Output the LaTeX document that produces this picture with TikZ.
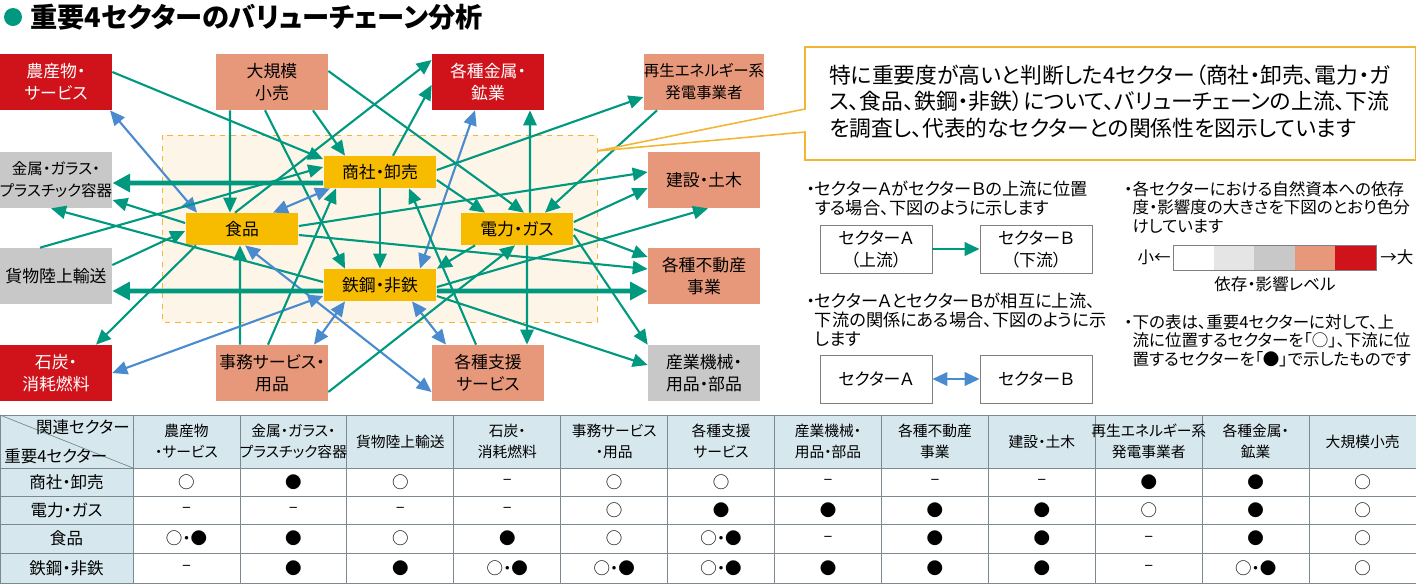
\documentclass[tikz,border=0pt]{standalone}
\usepackage{fontspec}
\setmainfont{Noto Sans CJK JP}[RawFeature=+palt]
\usepackage{xcolor}
\usetikzlibrary{arrows.meta}
\definecolor{secred}{HTML}{D0121B}
\definecolor{secsalmon}{HTML}{E8987A}
\definecolor{secgray}{HTML}{C8C8C8}
\definecolor{keyyel}{HTML}{F7BC00}
\definecolor{arrgreen}{HTML}{00997F}
\definecolor{arrblue}{HTML}{4A8BD0}
\definecolor{zonefill}{HTML}{FDF6E8}
\definecolor{zoneline}{HTML}{F2B632}
\definecolor{tabhead}{HTML}{D6E8EE}
\definecolor{tabline}{HTML}{7A8A90}
\tikzset{sec/.style={minimum width=2.24cm,minimum height=1.12cm,inner sep=0pt,align=center,font=\fontsize{9.6}{12.5}\selectfont},
  red/.style={sec,fill=secred,text=white},
  sal/.style={sec,fill=secsalmon},
  gry/.style={sec,fill=secgray},
  key/.style={fill=keyyel,minimum width=2.26cm,minimum height=0.64cm,inner sep=0pt,font=\fontsize{9.6}{12}\selectfont},
  up/.style={draw=arrgreen,line width=1.2pt,-{Triangle[length=8.5pt,width=7.5pt]}},
  bigup/.style={draw=arrgreen,line width=2.6pt,-{Triangle[length=10pt,width=10pt]}},
  both/.style={draw=arrblue,line width=1.2pt,{Triangle[length=8.5pt,width=7.5pt]}-{Triangle[length=8.5pt,width=7.5pt]}},
  demo/.style={draw=gray,fill=white,minimum width=2.24cm,minimum height=0.96cm,inner sep=0pt,align=center,font=\fontsize{9.6}{12.5}\selectfont},
  note/.style={anchor=north west,align=left,inner sep=0pt,font=\fontsize{9.8}{10.6}\selectfont},
  cell/.style={font=\fontsize{9.4}{11}\selectfont,align=center,inner sep=0pt}}

\begin{document}
\begin{tikzpicture}[x=0.02cm,y=-0.02cm]
    \useasboundingbox (0,0) rectangle (1416,583);
    % title
    \fill[arrgreen] (13,17) circle (9);
    \node[anchor=west,inner sep=0pt,font=\fontsize{15.5}{17}\selectfont\bfseries] (title) at (30,17) {重要4セクターのバリューチェーン分析};

    % highlighted zone
    \draw[zoneline,fill=zonefill,dashed] (162,135) rectangle (597,322);

    % outer sectors
    \node[red] (agri) at (56,82) {農産物・\\サービス};
    \node[sal] (retail) at (272,82) {大規模\\小売};
    \node[red] (metal) at (488,82) {各種金属・\\鉱業};
    \node[sal,font=\fontsize{8.8}{12.5}\selectfont] (renew) at (704,82) {再生エネルギー系\\発電事業者};
    \node[gry,font=\fontsize{8.8}{12.5}\selectfont] (glass) at (56,180) {金属・ガラス・\\プラスチック容器};
    \node[sal] (const) at (704,180) {建設・土木};
    \node[gry] (freight) at (56,276) {貨物陸上輸送};
    \node[sal] (estate) at (704,276) {各種不動産\\事業};
    \node[red] (coal) at (56,373) {石炭・\\消耗燃料};
    \node[sal] (office) at (272,373) {事務サービス・\\用品};
    \node[sal] (support) at (488,373) {各種支援\\サービス};
    \node[gry] (machine) at (704,373) {産業機械・\\用品・部品};

    % key sectors
    \node[key] (trade) at (380,172) {商社・卸売};
    \node[key] (food) at (242,229) {食品};
    \node[key] (power) at (517,229) {電力・ガス};
    \node[key] (steel) at (380,285) {鉄鋼・非鉄};

    % flows
    \draw[up] ([yshift=0.2cm]agri.east) -- ([yshift=0.26cm]trade.west);
    \draw[both] ([xshift=1.08cm]agri.south) -- ([xshift=-0.9cm]food.north);
    \draw[up] ([xshift=-0.84cm]retail.south) -- ([xshift=-0.24cm]food.north);
    \draw[up] ([xshift=-0.14cm]retail.south) -- ([xshift=-0.7cm]steel.north);
    \draw[up] ([xshift=0.82cm]retail.south) -- ([xshift=-0.7cm]trade.north);
    \draw[up] ([yshift=0.22cm]retail.east) -- ([xshift=0.14cm]power.north);
    \draw[up] ([xshift=-0.14cm]food.north) -- ([yshift=0.44cm]metal.west);
    \draw[up] ([xshift=0.26cm]trade.north) -- ([yshift=-0.06cm]metal.west);
    \draw[both] ([xshift=0.8cm]steel.north) -- ([xshift=-0.26cm]metal.south);
    \draw[up] ([xshift=0.26cm]power.north) -- ([xshift=0.84cm]metal.south);
    \draw[up] ([yshift=0.04cm]trade.east) -- ([yshift=-0.3cm]renew.west);
    \draw[up] ([xshift=-0.94cm]renew.south) -- ([xshift=0.56cm]power.north);
    \draw[bigup] ([yshift=-0.22cm]trade.west) -- ([yshift=-0.06cm]glass.east);
    \draw[up] ([xshift=-0.32cm]freight.north) -- ([yshift=0.1cm]trade.west);
    \draw[both] ([xshift=-1.0cm]trade.south) -- ([xshift=0.62cm]food.north);
    \draw[up] (trade.south) -- (steel.north);
    \draw[up] ([yshift=-0.16cm]trade.east) -- ([xshift=-0.64cm]power.north);
    \draw[up] ([xshift=-0.24cm]support.north) -- ([xshift=0.58cm]trade.south);
    \draw[up] ([yshift=0.06cm]food.east) -- ([yshift=0.16cm]const.west);
    \draw[up] ([yshift=0.14cm]power.east) -- ([yshift=-0.16cm]const.west);
    \draw[up] ([yshift=0.12cm]food.west) -- ([yshift=-0.4cm]glass.east);
    \draw[up] ([yshift=0.06cm]steel.west) -- ([xshift=-0.1cm]glass.south);
    \draw[up] ([yshift=0.22cm]freight.east) -- ([yshift=-0.04cm]food.west);
    \draw[up] ([xshift=-0.92cm]food.south) -- ([xshift=0.8cm]coal.north);
    \draw[up] ([xshift=-0.64cm]office.north) -- ([xshift=-0.04cm]food.south);
    \draw[both] ([xshift=0.06cm]food.south) -- ([yshift=-0.38cm]support.west);
    \draw[up] ([yshift=-0.12cm]food.east) -- ([yshift=0.14cm]estate.west);
    \draw[bigup] ([yshift=-0.12cm]steel.west) -- ([yshift=-0.3cm]freight.east);
    \draw[bigup] ([yshift=-0.12cm]steel.east) -- ([yshift=-0.3cm]estate.west);
    \draw[both] ([yshift=-0.22cm]steel.west) -- (coal.east);
    \draw[both] ([xshift=-0.7cm]steel.south) -- ([xshift=0.84cm]office.north);
    \draw[both] ([xshift=0.64cm]steel.south) -- ([xshift=-0.84cm]support.north);
    \draw[up] ([xshift=-0.08cm]office.north) -- ([xshift=-0.88cm]trade.south);
    \draw[up] ([yshift=-0.04cm]steel.east) -- ([xshift=0.08cm]const.south);
    \draw[up] ([xshift=-0.84cm]power.south) -- (steel.north east);
    \draw[up] ([yshift=-0.38cm]office.east) -- ([xshift=-0.04cm]power.south);
    \draw[up] ([xshift=0.2cm]power.south) -- ([xshift=0.78cm]support.north);
    \draw[up] (power.east) -- ([yshift=0.38cm]estate.west);
    \draw[up] ([yshift=-0.12cm]power.east) -- (machine.north west);
    \draw[up] ([yshift=-0.22cm]steel.east) -- ([yshift=0.16cm]machine.west);

    % callout
    \coordinate (tip) at (597,151);
    \draw[zoneline,line width=0.9pt,fill=white] (tip) -- (805,109) -- (805,47) -- (1416,47) -- (1416,160) -- (805,160) -- (805,132) -- cycle;
    \node[anchor=north west,align=left,inner sep=0pt,font=\fontsize{12.4}{15.3}\selectfont] (callout) at (829,64)
      {特に重要度が高いと判断した4セクター（商社・卸売、電力・ガ\\ス、食品、鉄鋼・非鉄）について、バリューチェーンの上流、下流\\を調査し、代表的なセクターとの関係性を図示しています};

    % legend
    \node[note] (n1) at (806,181) {・セクターＡがセクターＢの上流に位置\\\hspace*{0.5em}する場合、下図のように示します};
    \node[demo] (a1) at (876,249) {セクターＡ\\（上流）};
    \node[demo] (b1) at (1036,249) {セクターＢ\\（下流）};
    \draw[up,line width=1.6pt] (a1) -- (b1);
    \node[note] (n2) at (806,293) {・セクターＡとセクターＢが相互に上流、\\\hspace*{0.5em}下流の関係にある場合、下図のように示\\\hspace*{0.5em}します};
    \node[demo] (a2) at (876,379) {セクターＡ};
    \node[demo] (b2) at (1036,379) {セクターＢ};
    \draw[both,line width=1.6pt] (a2) -- (b2);
    \node[note,font=\fontsize{9.4}{10.6}\selectfont] (n3) at (1124,181) {・各セクターにおける自然資本への依存\\\hspace*{0.5em}度・影響度の大きさを下図のとおり色分\\\hspace*{0.5em}けしています};
    \foreach \c [count=\i from 0] in {white,black!10,secgray,secsalmon,secred}
      \fill[\c] (1173+\i*40.6,245) rectangle ++(40.6,25);
    \draw[gray] (1173,245) rectangle (1376,270);
    \node[cell,anchor=east] (small) at (1171,257) {小←};
    \node[cell,anchor=west] (large) at (1380,257) {→大};
    \node[cell] (level) at (1275,284) {依存・影響レベル};
    \node[note,font=\fontsize{9.4}{10.6}\selectfont] (n4) at (1124,314) {・下の表は、重要4セクターに対して、上\\\hspace*{0.5em}流に位置するセクターを「○」、下流に位\\\hspace*{0.5em}置するセクターを「●」で示したものです};

    % table
    \fill[tabhead] (0,415) rectangle (1416,468);
    \fill[tabhead] (0,468) rectangle (133,583);
    \foreach \y in {415,468,496,524,553,583} \draw[tabline] (0,\y) -- (1416,\y);
    \draw[tabline] (0,415) -- (0,583);
    \foreach \i in {0,...,12} \draw[tabline] (133+\i*106.92,415) -- (133+\i*106.92,583);
    \draw[tabline] (0,415) -- (133,468);
    \node[cell,anchor=north east] (colhd) at (130,419) {関連セクター};
    \node[cell,anchor=south west] (rowhd) at (4,464) {重要4セクター};
    \foreach \t [count=\i from 0] in {農産物\\・サービス,金属・ガラス・\\プラスチック容器,貨物陸上輸送,石炭・\\消耗燃料,事務サービス\\・用品,各種支援\\サービス,産業機械・\\用品・部品,各種不動産\\事業,建設・土木,再生エネルギー系\\発電事業者,各種金属・\\鉱業,大規模小売}
      \node[cell,font=\fontsize{8.4}{12}\selectfont] at (186.5+\i*106.92,441.5) {\t};
    \foreach \r/\y in {商社・卸売/482,電力・ガス/510,食品/538.5,鉄鋼・非鉄/568}
      \node[cell] at (66.5,\y) {\r};
    \foreach \m [count=\i from 0] in {○,●,○,–,○,○,–,–,–,●,●,○}
      \node[cell] at (186.5+\i*106.92,482) {\m};
    \foreach \m [count=\i from 0] in {–,–,–,–,○,●,●,●,●,○,●,○}
      \node[cell] at (186.5+\i*106.92,510) {\m};
    \foreach \m [count=\i from 0] in {○・●,●,○,●,○,○・●,–,●,●,–,●,○}
      \node[cell] at (186.5+\i*106.92,538.5) {\m};
    \foreach \m [count=\i from 0] in {–,●,●,○・●,○・●,○・●,●,●,●,–,○・●,○}
      \node[cell] at (186.5+\i*106.92,568) {\m};
\end{tikzpicture}
\end{document}
